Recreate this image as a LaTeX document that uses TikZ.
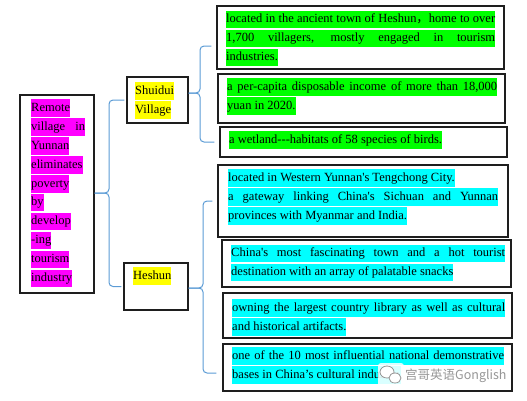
\documentclass[tikz,border=0pt]{standalone}
\usepackage{fontspec}
\setmainfont{Liberation Serif}[Ligatures=TeXOff]
\newfontfamily\cjk{Noto Sans CJK SC}
\usetikzlibrary{positioning}
\definecolor{greenhl}{RGB}{0,255,0}
\definecolor{cyanhl}{RGB}{0,255,255}
\definecolor{magentahl}{RGB}{255,0,255}
\definecolor{yellowhl}{RGB}{255,255,0}
\definecolor{boxline}{RGB}{30,30,30}
\definecolor{braceblue}{RGB}{91,155,213}
\definecolor{wmgray}{RGB}{150,150,150}
\tikzset{
  box/.style={draw=boxline, line width=1.1pt, inner sep=0pt},
  hl/.style={
    fill=#1, inner sep=0pt,
    minimum height=17.5pt, text height=9.5pt, text depth=3pt,
    anchor=north west,
    font=\fontsize{12.5}{15}\selectfont
  },
  nextline/.style={below=1pt of #1.south west, anchor=north west},
  brace/.style={draw=braceblue, line width=1pt, rounded corners=4pt},
  watermark/.style={text=wmgray, inner sep=0pt, anchor=west,
    font=\cjk\fontsize{12.5}{14}\selectfont},
}

\begin{document}
\begin{tikzpicture}[x=1pt, y=-1pt]
\useasboundingbox (0,0) rectangle (527,400);

%% ─── LEFT: MAIN TOPIC ─────────────────────────────────────────
\node[box, minimum width=74pt, minimum height=198pt] (topic) at (57,194) {};
\node[hl=magentahl] (lft1) at (31,99.2) {Remote};
\node[hl=magentahl, nextline=lft1] (lft2) {\makebox[54pt][s]{village in}};
\node[hl=magentahl, nextline=lft2] (lft3) {Yunnan};
\node[hl=magentahl, nextline=lft3] (lft4) {eliminates};
\node[hl=magentahl, nextline=lft4] (lft5) {poverty};
\node[hl=magentahl, nextline=lft5] (lft6) {by};
\node[hl=magentahl, nextline=lft6] (lft7) {develop};
\node[hl=magentahl, nextline=lft7] (lft8) {-ing};
\node[hl=magentahl, nextline=lft8] (lft9) {tourism};
\node[hl=magentahl, nextline=lft9] (lft10) {industry};

%% ─── MIDDLE: PLACES ───────────────────────────────────────────
\node[box, minimum width=61pt, minimum height=46pt] (shuidui) at (157.5,100) {};
\node[hl=yellowhl] (sv1) at (135,82.2) {Shuidui};
\node[hl=yellowhl, nextline=sv1] (sv2) {Village};

\node[box, minimum width=64pt, minimum height=47pt] (heshun) at (156,286.5) {};
\node[hl=yellowhl] (hs1) at (133,267.2) {Heshun};

%% ─── RIGHT: SHUIDUI FACTS ─────────────────────────────────────
\node[box, minimum width=287pt, minimum height=63pt] (boxA) at (360.5,37.5) {};
\node[hl=greenhl] (la1) at (226,10.7)
  {\makebox[269pt][s]{located in the ancient town of Heshun{\cjk ，}home to over}};
\node[hl=greenhl, nextline=la1] (la2)
  {\makebox[269pt][s]{1,700 villagers, mostly engaged in tourism}};
\node[hl=greenhl, nextline=la2] (la3) {industries.};

\node[box, minimum width=287pt, minimum height=49pt] (boxB) at (361.5,98.5) {};
\node[hl=greenhl] (lb1) at (227,78.2)
  {\makebox[270pt][s]{a per-capita disposable income of more than 18,000}};
\node[hl=greenhl, nextline=lb1] (lb2) {yuan in 2020.\ };

\node[box, minimum width=287pt, minimum height=30pt] (boxC) at (363.5,142) {};
\node[hl=greenhl] (lc1) at (229,131.2) {a wetland---habitats of 58 species of birds.};

%% ─── RIGHT: HESHUN FACTS ──────────────────────────────────────
\node[box, minimum width=290pt, minimum height=72pt] (boxD) at (363,201) {};
\node[hl=cyanhl] (ld1) at (228,169.2) {located in Western Yunnan's Tengchong City.};
\node[hl=cyanhl, nextline=ld1] (ld2)
  {\makebox[270pt][s]{a gateway linking China's Sichuan and Yunnan}};
\node[hl=cyanhl, nextline=ld2] (ld3) {provinces with Myanmar and India.};

\node[box, minimum width=289pt, minimum height=47pt] (boxE) at (366.5,263.5) {};
\node[hl=cyanhl] (le1) at (231,244.7)
  {\makebox[274pt][s]{China's most fascinating town and a hot tourist}};
\node[hl=cyanhl, nextline=le1] (le2) {destination with an array of palatable snacks};

\node[box, minimum width=289pt, minimum height=45pt] (boxF) at (367.5,315.5) {};
\node[hl=cyanhl] (lf1) at (232,299.2)
  {\makebox[273pt][s]{owning the largest country library as well as cultural}};
\node[hl=cyanhl, nextline=lf1] (lf2) {and historical artifacts.};

\node[box, minimum width=289pt, minimum height=47pt] (boxG) at (367.5,367.5) {};
\node[hl=cyanhl] (lg1) at (232,347.2)
  {\makebox[272pt][s]{one of the 10 most influential national demonstrative}};
\node[hl=cyanhl, nextline=lg1] (lg2) {bases in China’s cultural industry.};

%% ─── BRACES ───────────────────────────────────────────────────
\coordinate (b1) at (109,193);
\draw[brace, shorten <=2pt] (shuidui.west) -| (b1) -- (b1 -| topic.east);
\draw[brace, shorten <=2pt] (heshun.west) -| (b1) -- (b1 -| topic.east);

\coordinate (b2) at (200,93);
\draw[brace, shorten <=5pt] ([yshift=-8.5pt]boxA.west) -| (b2) -- (b2 -| shuidui.east);
\draw[brace, shorten <=5pt] (boxC.west) -| (b2) -- (b2 -| shuidui.east);

\coordinate (b3) at (203,288);
\draw[brace, shorten <=5pt] (boxD.west) -| (b3) -- (b3 -| heshun.east);
\draw[brace, shorten <=6pt] ([yshift=-5.5pt]boxG.west) -| (b3) -- (b3 -| heshun.east);

%% ─── WATERMARK ────────────────────────────────────────────────
\fill[white, opacity=0.85, rounded corners=3pt] (378,363) rectangle (404,388);
\draw[wmgray, fill=white, line width=0.8pt] (387,372) ellipse [x radius=7pt, y radius=6pt];
\draw[wmgray, fill=white, line width=0.8pt] (395,378) ellipse [x radius=6pt, y radius=5pt];
\node[watermark] (mark) at (405,376) {宫哥英语Gonglish};

\end{tikzpicture}
\end{document}
